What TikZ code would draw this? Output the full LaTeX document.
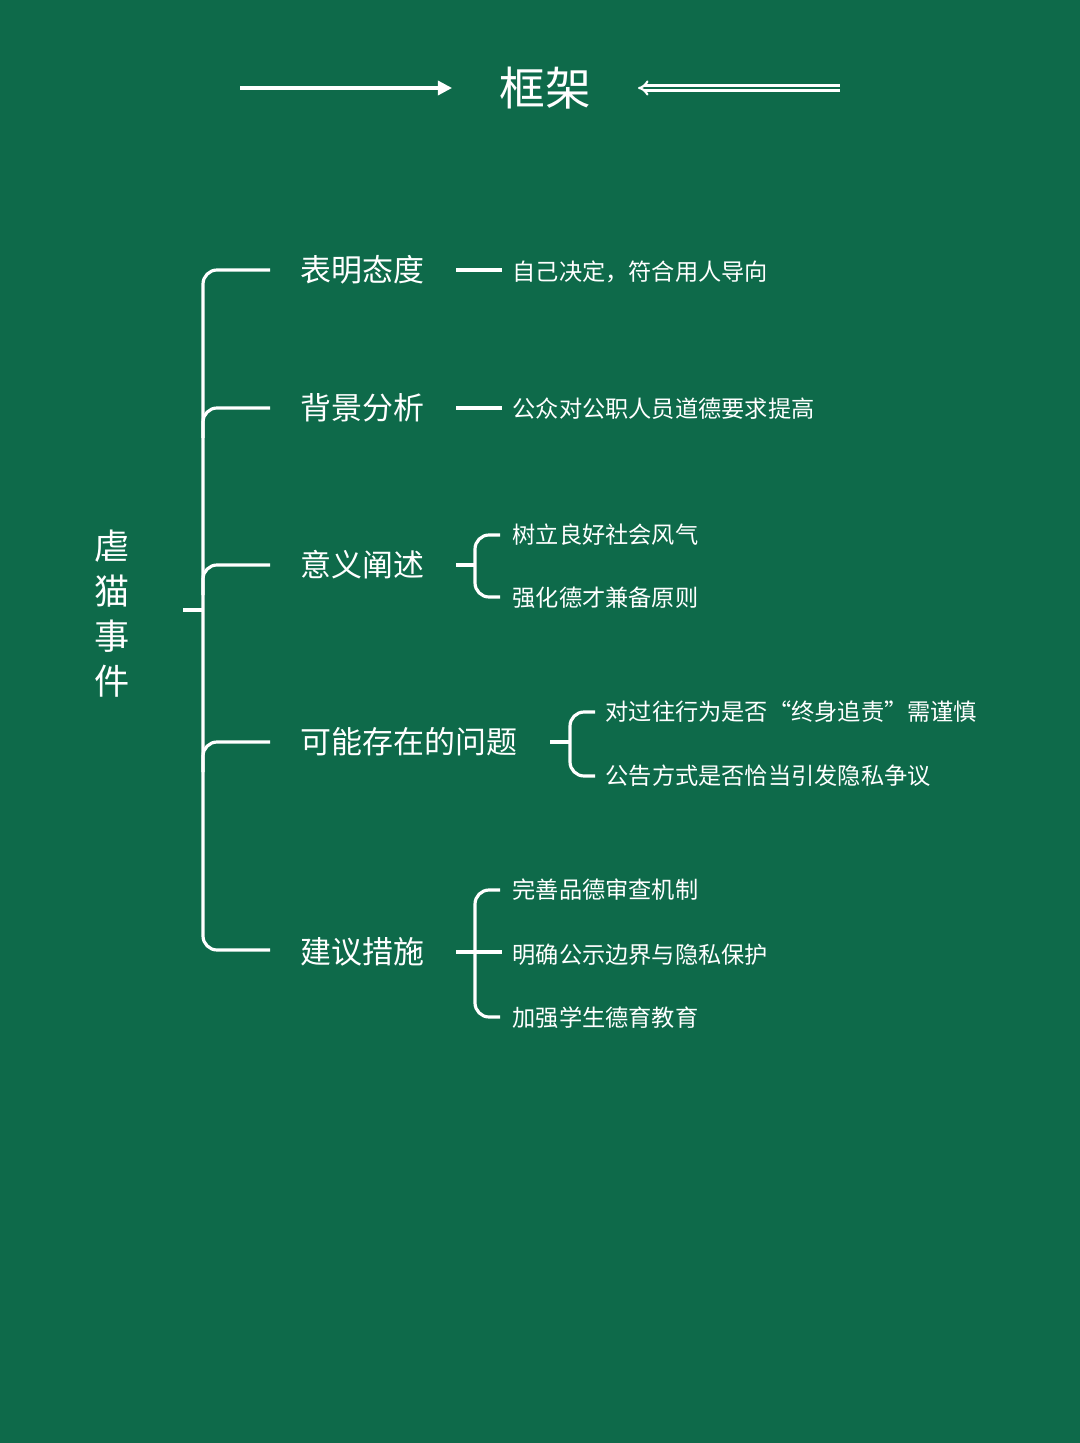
\documentclass[tikz,border=0pt]{standalone}
\usepackage{fontspec}
\setmainfont{Noto Sans CJK SC}
\usetikzlibrary{arrows.meta}
\definecolor{board}{HTML}{0E6A4A}
\begin{document}
\begin{tikzpicture}[x=0.01cm,y=-0.01cm,
    line/.style={draw=white, line width=0.9pt, rounded corners=4pt},
    topic/.style={anchor=west, text=white, inner sep=0pt, font=\fontsize{8.8pt}{10pt}\selectfont},
    leaf/.style={anchor=west, text=white, inner sep=0pt, font=\fontsize{6.6pt}{8pt}\selectfont}]
  \fill[board] (0,0) rectangle (1080,1443);
  % title
  \node[text=white, font=\fontsize{13pt}{15pt}\selectfont] (title) at (545,88) {框架};
  \coordinate (la) at (240,88);
  \coordinate (lb) at (452,88);
  \coordinate (ra) at (840,88);
  \coordinate (rb) at (638,88);
  \draw[white, line width=0.9pt, -{Triangle[width=4pt,length=4pt]}] (la) -- (lb);
  \draw[white, double=board, double distance=0.8pt, line width=0.6pt, -{Implies[]}] (ra) -- (rb);
  % root
  \node[text=white, align=center, font=\fontsize{10pt}{12.8pt}\selectfont] (root) at (112,614) {虐\\猫\\事\\件};
  \coordinate (rs) at (183,610);
  \coordinate (rt) at (203,610);
  \draw[line] (rs) -- (rt);
  % topics
  \foreach \n/\y/\t in {a/270/表明态度, b/408/背景分析, c/565/意义阐述, d/742/可能存在的问题, e/952/建议措施}
    \node[topic] (\n) at (300,\y) {\t};
  \draw[line] (270,270) -- (203,270) -- (203,950) -- (270,950);
  \foreach \y in {408,565,742}
    \draw[line] (270,\y) -| (203,\y+30);
  % leaves
  \node[leaf] (a1) at (512,272) {自己决定，符合用人导向};
  \node[leaf] (b1) at (512,409) {公众对公职人员道德要求提高};
  \node[leaf] (c1) at (512,535) {树立良好社会风气};
  \node[leaf] (c2) at (512,598) {强化德才兼备原则};
  \node[leaf] (d1) at (605,712) {对过往行为是否“终身追责”需谨慎};
  \node[leaf] (d2) at (605,776) {公告方式是否恰当引发隐私争议};
  \node[leaf] (e1) at (512,890) {完善品德审查机制};
  \node[leaf] (e2) at (512,955) {明确公示边界与隐私保护};
  \node[leaf] (e3) at (512,1018) {加强学生德育教育};
  \draw[line] (456,270) -- (502,270);
  \draw[line] (456,408) -- (502,408);
  \draw[line] (456,565) -- (475,565);
  \draw[line] (500,535) -- (475,535) -- (475,597) -- (500,597);
  \draw[line] (550,742) -- (570,742);
  \draw[line] (595,712) -- (570,712) -- (570,776) -- (595,776);
  \draw[line] (456,952) -- (502,952);
  \draw[line] (500,890) -- (475,890) -- (475,1017) -- (500,1017);
\end{tikzpicture}
\end{document}
